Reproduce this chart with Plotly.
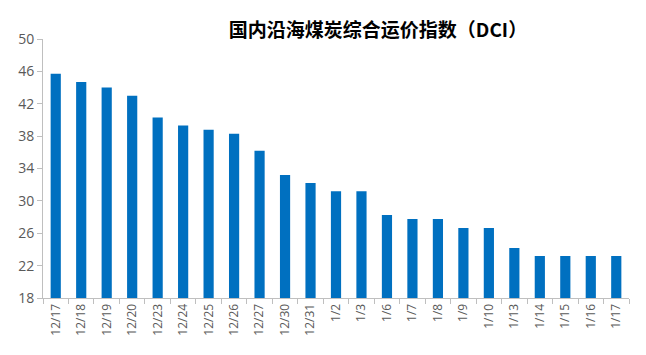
import plotly.graph_objects as go

categories = ["12/17", "12/18", "12/19", "12/20", "12/23", "12/24", "12/25", "12/26",
              "12/27", "12/30", "12/31", "1/2", "1/3", "1/6", "1/7", "1/8", "1/9",
              "1/10", "1/13", "1/14", "1/15", "1/16", "1/17"]
dci_values = [45.7, 44.7, 44.0, 43.0, 40.3, 39.3, 38.8, 38.3, 36.2, 33.2, 32.2,
              31.2, 31.2, 28.25, 27.76, 27.76, 26.65, 26.65, 24.17, 23.2, 23.2, 23.2, 23.2]
y_ticks = [18, 22, 26, 30, 34, 38, 42, 46, 50]
title_text = "国内沿海煤炭综合运价指数（DCI）"

fig = go.Figure()
fig.add_trace(go.Bar(
    x=categories, y=dci_values,
    marker=dict(color="#0070C0", line=dict(width=0)),
    hoverinfo="x+y",
))

fig.update_layout(
    width=646, height=355,
    margin=dict(l=43, r=17, t=39, b=57),
    plot_bgcolor="white", paper_bgcolor="white",
    bargap=0.6,
    showlegend=False,
    font=dict(family="Noto Sans CJK SC, Open Sans, sans-serif", color="#595959"),
    title=dict(text="<b>" + title_text + "</b>", x=378 / 646, xanchor="center",
               y=1 - 30 / 355, yanchor="middle",
               font=dict(size=19, color="#000000", family="Noto Sans CJK SC")),
)
fig.update_xaxes(
    type="category",
    showline=True, linecolor="#BFBFBF", linewidth=1,
    ticks="outside", tickson="boundaries", ticklen=5, tickcolor="#BFBFBF",
    tickangle=-90, tickfont=dict(size=12, color="#595959", family="Open Sans, sans-serif"),
    showgrid=False,
)
fig.update_yaxes(
    range=[18, 50], tickvals=y_ticks,
    showline=True, linecolor="#BFBFBF", linewidth=1,
    ticks="outside", ticklen=5, tickcolor="#BFBFBF",
    tickfont=dict(size=14, color="#595959", family="Open Sans, sans-serif"),
    showgrid=False, zeroline=False,
)

fig.write_html("out.html")
